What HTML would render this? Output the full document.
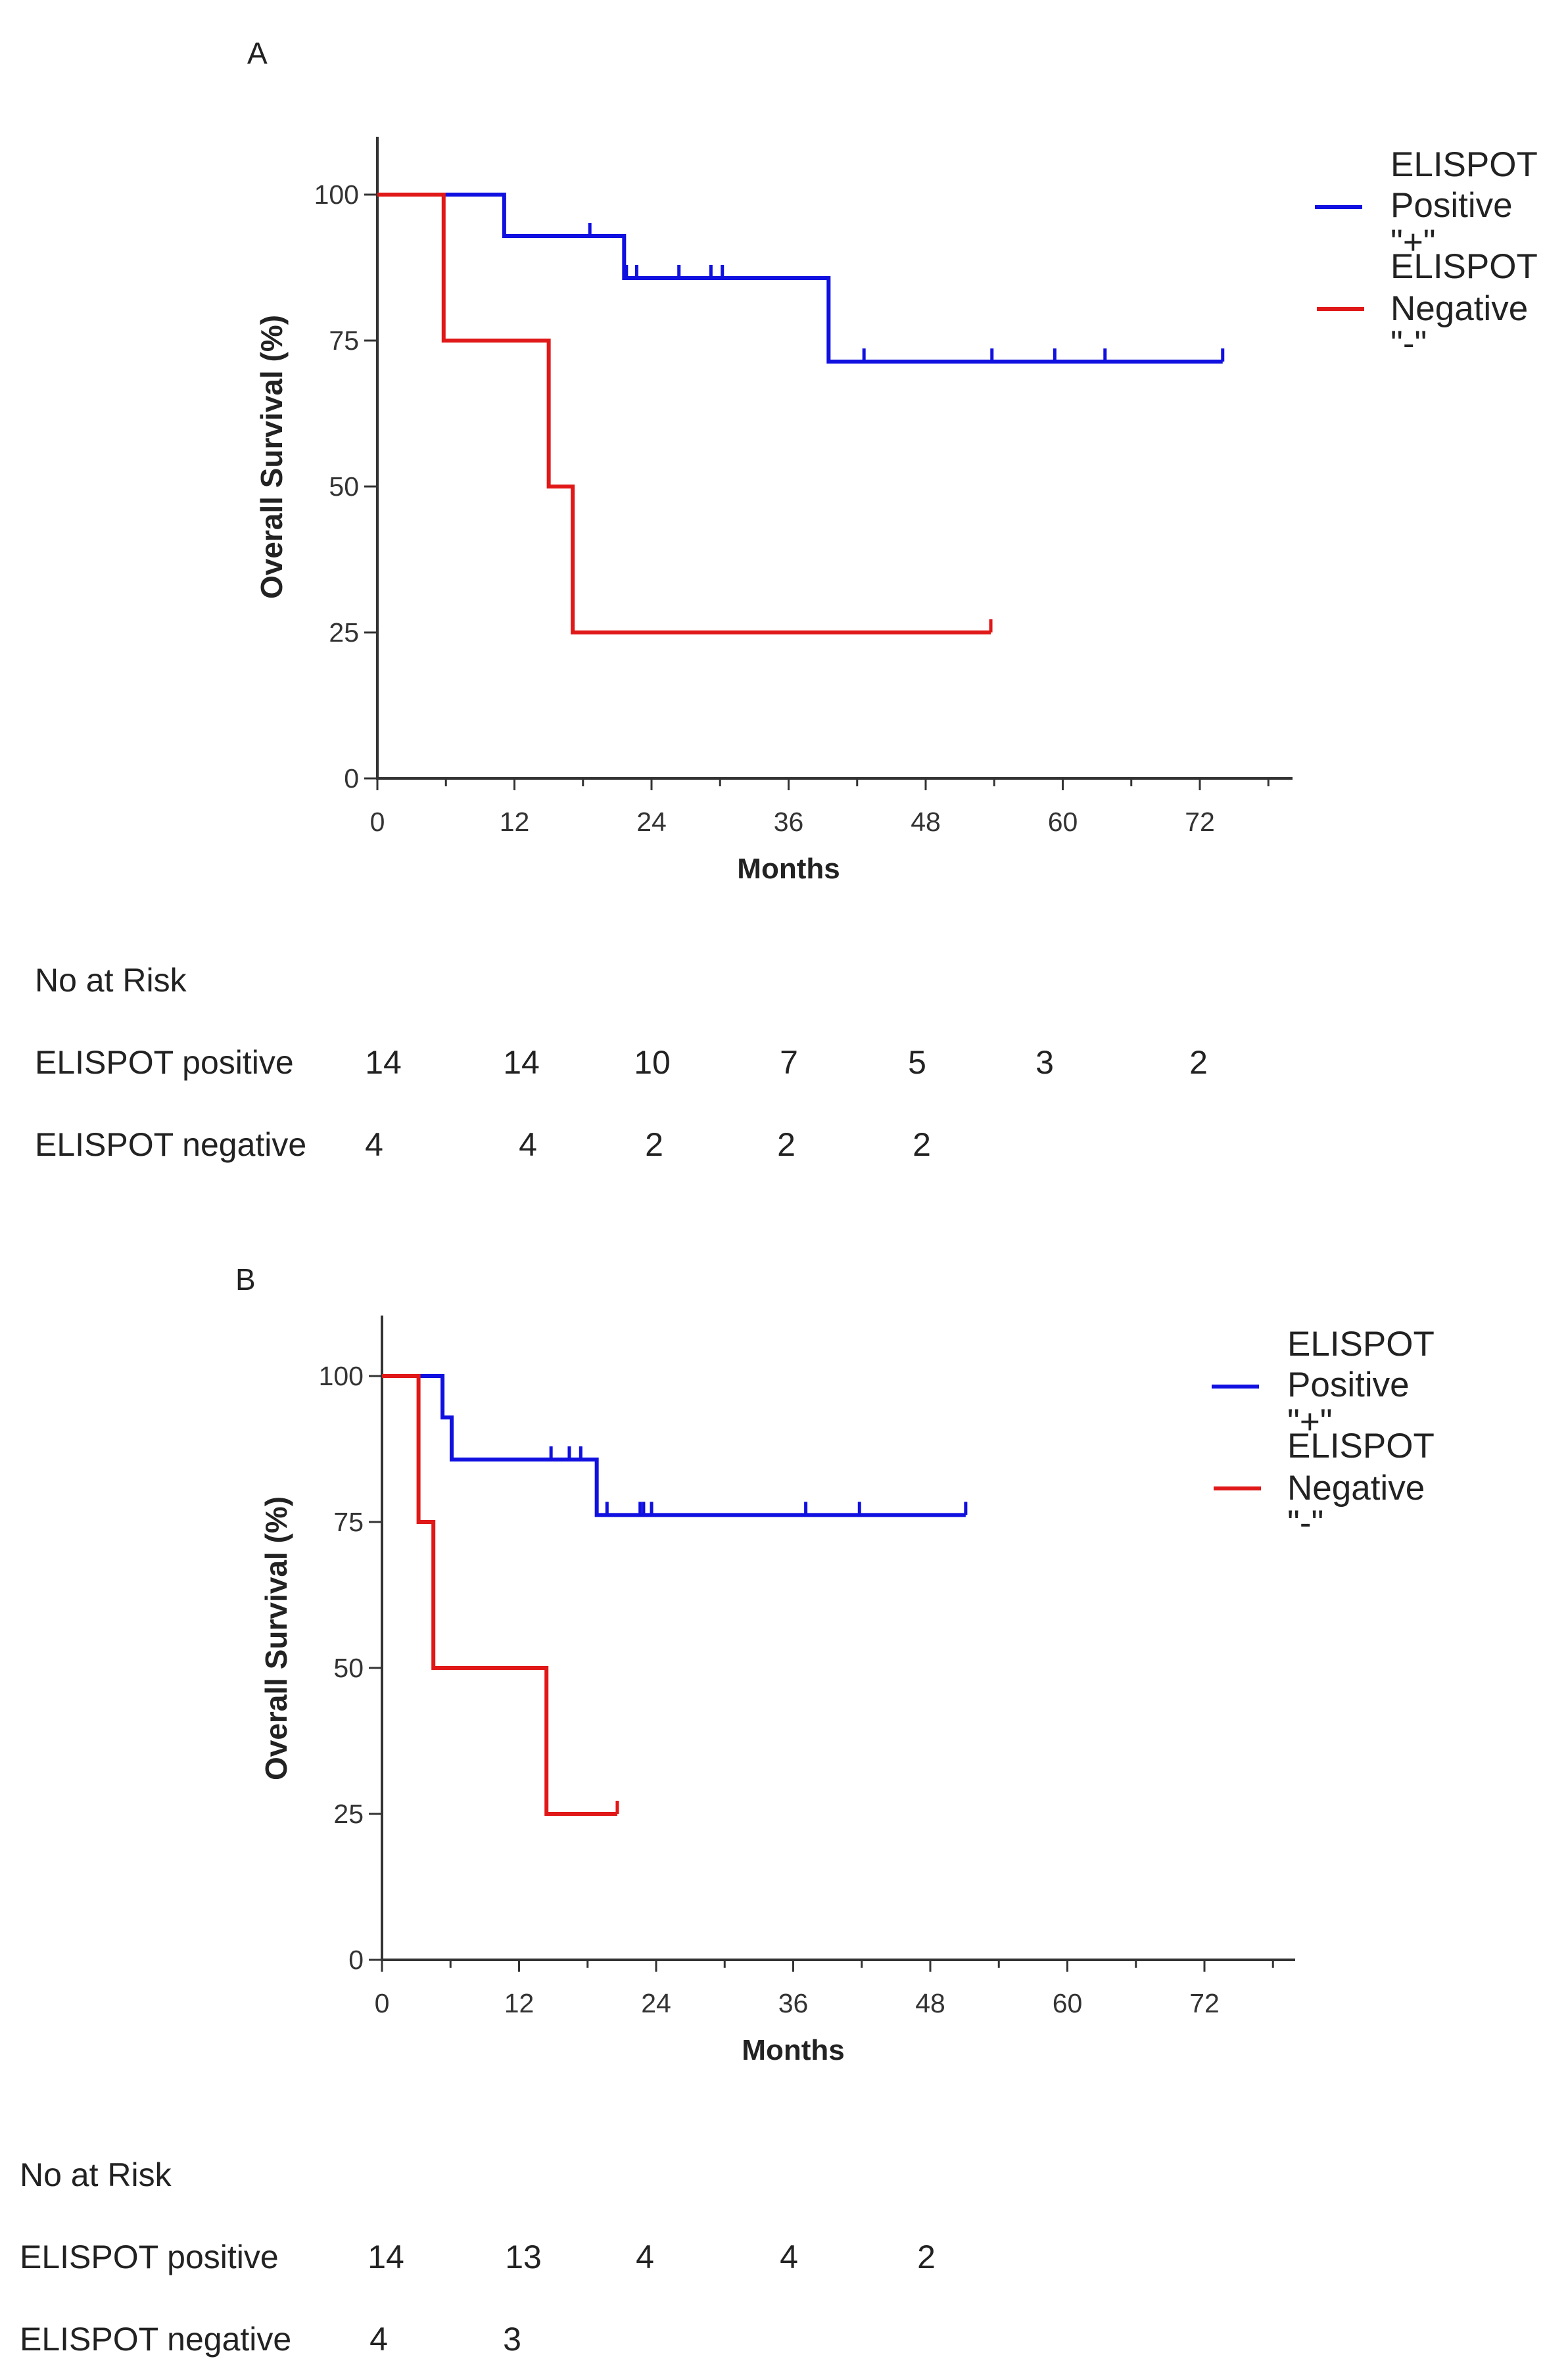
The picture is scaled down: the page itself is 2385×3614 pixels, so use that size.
<!DOCTYPE html>
<html><head><meta charset="utf-8"><style>
html,body{margin:0;padding:0;background:#fff;}
body{width:2385px;height:3614px;position:relative;overflow:hidden;font-family:"Liberation Sans",sans-serif;}
svg{position:absolute;left:0;top:0;}
</style></head><body>
<svg id="chart" width="2385" height="3614" viewBox="0 0 2385 3614"></svg>
<script>
// ---- Data (months, survival %) ----
const xTicks = [0, 12, 24, 36, 48, 60, 72];
const yTicks = [0, 25, 50, 75, 100];
// Panel A
const aPosStepTimes = [0, 11.1, 21.6, 39.5];
const aPosStepValues = [100, 92.9, 85.7, 71.4];
const aPosEnd = 74;
const aPosCensorTimes = [18.6, 21.8, 22.7, 26.4, 29.2, 30.2, 42.6, 53.8, 59.3, 63.7, 74];
const aNegStepTimes = [0, 5.8, 15.0, 17.1];
const aNegStepValues = [100, 75, 50, 25];
const aNegEnd = 53.7;
const aNegCensorTimes = [53.7];
// Panel B
const bPosStepTimes = [0, 5.3, 6.1, 18.8];
const bPosStepValues = [100, 92.9, 85.7, 76.2];
const bPosEnd = 51.1;
const bPosCensorTimes = [14.8, 16.4, 17.4, 19.7, 22.6, 22.9, 23.6, 37.1, 41.8, 51.1];
const bNegStepTimes = [0, 3.2, 4.5, 14.4];
const bNegStepValues = [100, 75, 50, 25];
const bNegEnd = 20.6;
const bNegCensorTimes = [20.6];
// Risk tables
const aRiskPositive = ["14","14","10","7","5","3","2"];
const aRiskNegative = ["4","4","2","2","2"];
const bRiskPositive = ["14","13","4","4","2"];
const bRiskNegative = ["4","3"];

const NS = "http://www.w3.org/2000/svg";
const svg = document.getElementById('chart');
function mk(tag, attrs, parent, text){
  const e = document.createElementNS(NS, tag);
  for (const k in attrs) e.setAttribute(k, attrs[k]);
  if (text !== undefined) e.textContent = text;
  (parent || svg).appendChild(e);
  return e;
}

function panel(p){
  const g = mk('g', {});
  
  
  const X = m => p.x0 + (p.x72 - p.x0) * m / 72;
  const Y = v => p.y0 + (p.y100 - p.y0) * v / 100;
  const t = mk('text', {x:p.lx, y:p.ly, 'font-size':46, fill:'#222'}, g, p.letter);
  
  
  const ya = mk('line', {x1:p.x0, y1:p.top, x2:p.x0, y2:p.y0, stroke:'#333', 'stroke-width':4}, g);
  
  
  const xa = mk('line', {x1:p.x0-2, y1:p.y0, x2:p.right, y2:p.y0, stroke:'#333', 'stroke-width':4}, g);
  
  
  for (let m = 0; m <= 78; m += 6){
    const tk = mk('line', {x1:X(m), y1:p.y0, x2:X(m), y2:p.y0 + (m%12===0?18:12), stroke:'#333', 'stroke-width':3}, g);
    
    
  }
  xTicks.forEach(m => {
    const l = mk('text', {x:X(m), y:p.y0+80, 'font-size':41, fill:'#333', 'text-anchor':'middle'}, g, String(m));
    
    
  });
  yTicks.forEach(v => {
    const tk = mk('line', {x1:p.x0-20, y1:Y(v), x2:p.x0, y2:Y(v), stroke:'#333', 'stroke-width':3}, g);
    
    
    const l = mk('text', {x:p.x0-28, y:Y(v)+14, 'font-size':41, fill:'#333', 'text-anchor':'end'}, g, String(v));
    
    
  });
  const xt = mk('text', {x:(p.x0+p.x72)/2, y:p.y0+152, 'font-size':44, 'font-weight':'bold', fill:'#222', 'text-anchor':'middle'}, g, 'Months');
  
  
  const ycx = p.x0 - 145, ycy = (p.y100 + p.y0)/2 - 45;
  const yt = mk('text', {x:ycx, y:ycy, 'font-size':46, 'font-weight':'bold', fill:'#222', 'text-anchor':'middle', transform:`rotate(-90 ${ycx} ${ycy})`}, g, 'Overall Survival (%)');
  
  
  function curve(times, vals, end, cens, color, nm){
    let d = `M${X(times[0])},${Y(vals[0])}`;
    for (let i = 1; i < times.length; i++){
      d += ` H${X(times[i])} V${Y(vals[i])}`;
    }
    d += ` H${X(end)}`;
    const pth = mk('path', {d:d, fill:'none', stroke:color, 'stroke-width':6}, g);
    
    
    cens.forEach(c => {
      let v = vals[0];
      for (let i = 0; i < times.length; i++) if (times[i] <= c) v = vals[i];
      const cm = mk('line', {x1:X(c), y1:Y(v), x2:X(c), y2:Y(v)-20, stroke:color, 'stroke-width':5}, g);
      
      
    });
  }
  curve(p.pos[0], p.pos[1], p.pos[2], p.pos[3], '#1010e0', 'elispot-positive');
  curve(p.neg[0], p.neg[1], p.neg[2], p.neg[3], '#e01818', 'elispot-negative');
  const lg = mk('g', {}, g);
  
  
  const e1 = mk('line', {x1:p.legX, y1:p.legY+47, x2:p.legX+72, y2:p.legY+47, stroke:'#1010e0', 'stroke-width':6}, lg);
  
  
  const e2 = mk('line', {x1:p.legX+3, y1:p.legY+202, x2:p.legX+75, y2:p.legY+202, stroke:'#e01818', 'stroke-width':6}, lg);
  
  
  const tx = p.legX + 115, ty = p.legY;
  [['ELISPOT',0],['Positive',62],['"+"',118],['ELISPOT',155],['Negative',219],['"-"',272]].forEach(([s,dy]) => {
    const lt = mk('text', {x:tx, y:ty+dy, 'font-size':53, fill:'#222'}, lg, s);
    
    
  });
  const rt = mk('g', {}, g);
  
  
  const fs = 50;
  const h = mk('text', {x:p.rx, y:p.ry, 'font-size':fs, fill:'#222'}, rt, 'No at Risk');
  
  
  const r1 = mk('text', {x:p.rx, y:p.ry+125, 'font-size':fs, fill:'#222'}, rt, 'ELISPOT positive');
  
  
  const r2 = mk('text', {x:p.rx, y:p.ry+250, 'font-size':fs, fill:'#222'}, rt, 'ELISPOT negative');
  
  
  p.rPos.forEach((s,i) => {
    const c = mk('text', {x:p.rPosX[i], y:p.ry+125, 'font-size':fs, fill:'#222', 'text-anchor':'middle'}, rt, s);
    
    
  });
  p.rNeg.forEach((s,i) => {
    const c = mk('text', {x:p.rNegX[i], y:p.ry+250, 'font-size':fs, fill:'#222', 'text-anchor':'middle'}, rt, s);
    
    
  });
}

panel({name:'panel-a', letter:'A', lx:376, ly:97, x0:574, x72:1825, y0:1184, y100:296, top:208, right:1966,
  pos:[aPosStepTimes, aPosStepValues, aPosEnd, aPosCensorTimes],
  neg:[aNegStepTimes, aNegStepValues, aNegEnd, aNegCensorTimes],
  legX:2000, legY:268,
  rx:53, ry:1508, rPos:aRiskPositive, rNeg:aRiskNegative,
  rPosX:[583,793,992,1200,1395,1589,1823], rNegX:[569,803,995,1196,1402]});
panel({name:'panel-b', letter:'B', lx:358, ly:1962, x0:581, x72:1832, y0:2981, y100:2093, top:2001, right:1970,
  pos:[bPosStepTimes, bPosStepValues, bPosEnd, bPosCensorTimes],
  neg:[bNegStepTimes, bNegStepValues, bNegEnd, bNegCensorTimes],
  legX:1843, legY:2062,
  rx:30, ry:3325, rPos:bRiskPositive, rNeg:bRiskNegative,
  rPosX:[587,796,981,1200,1409], rNegX:[576,779]});
</script>
</body></html>
